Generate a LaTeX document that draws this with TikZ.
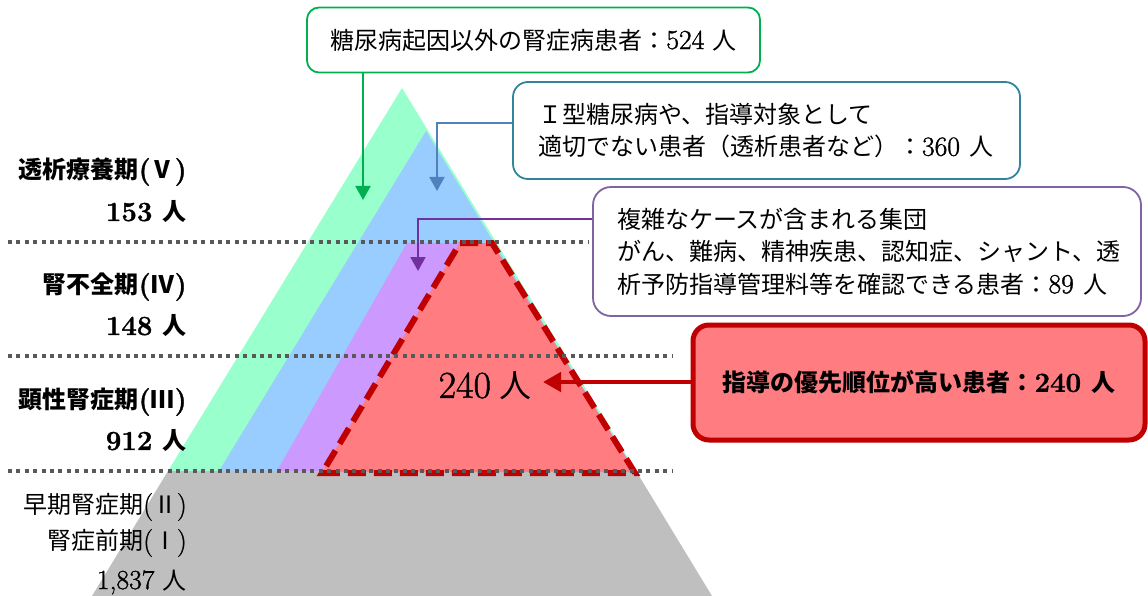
\documentclass[tikz,border=0pt]{standalone}
\usepackage{fontspec}
\setmainfont{Latin Modern Roman}[Scale=1.15, RawFeature={embolden=1.2}]
\newfontfamily\jp{Noto Sans CJK JP}
\usetikzlibrary{arrows.meta}
\definecolor{lgreen}{HTML}{99FFCC}
\definecolor{lblue}{HTML}{99CCFF}
\definecolor{lpurple}{HTML}{CC99FF}
\definecolor{lred}{HTML}{FF7C80}
\definecolor{lgray}{HTML}{BFBFBF}
\definecolor{dotc}{HTML}{595959}
\definecolor{dgreen}{HTML}{00B050}
\definecolor{dteal}{HTML}{31849B}
\definecolor{dblue}{HTML}{4F81BD}
\definecolor{dpurple}{HTML}{7030A0}
\definecolor{mpurple}{HTML}{8064A2}
\definecolor{dred}{HTML}{C00000}
\begin{document}
\begin{tikzpicture}[x=1pt,y=-1pt,
  every node/.style={inner sep=0pt, font=\fontsize{24}{32.5}\selectfont},
  layerlbl/.style={anchor=east, font=\fontsize{24}{32.5}\selectfont\bfseries},
  basiclbl/.style={anchor=east},
  dotline/.style={dotc, line width=3.5pt, dash pattern=on 4pt off 4.4pt},
  callout/.style={draw, line width=1.8pt, rounded corners=12pt, fill=white},
  pointer/.style={line width=2pt, -{Triangle[length=14pt,width=15pt]}},
]
\useasboundingbox (0,0) rectangle (1148,596);
% pyramid layers
\fill[lgreen] (402,88) -- (636,471) -- (168,471) -- cycle;
\fill[lblue] (426,131) -- (633,471) -- (219,471) -- cycle;
\fill[lpurple] (407,243) -- (492,243) -- (635,471) -- (277,471) -- cycle;
\fill[lgray] (168,471) -- (636,471) -- (712,596) -- (92,596) -- cycle;
\fill[lred] (460,243) -- (492,243) -- (635,472) -- (322,472) -- cycle;
\draw[dred, line width=6pt, dash pattern=on 18pt off 8pt] (460,243) -- (492,243) -- (635,473) -- (322,473) -- cycle;
% stage separators
\draw[dotline] (8,242) -- (588,242);
\draw[dotline] (8,356) -- (672,356);
\draw[dotline] (8,471) -- (672,471);
% stage labels
\node[layerlbl] (l5a) at (187,172) {{\jp 透析療養期}({\jp Ⅴ})};
\node[layerlbl] (l5b) at (187,212) {153 {\jp 人}};
\node[layerlbl] (l4a) at (187,287) {{\jp 腎不全期}({\jp Ⅳ})};
\node[layerlbl] (l4b) at (187,326) {148 {\jp 人}};
\node[layerlbl] (l3a) at (187,402) {{\jp 顕性腎症期}({\jp Ⅲ})};
\node[layerlbl] (l3b) at (187,441) {912 {\jp 人}};
\node[basiclbl] (l2a) at (187,507) {{\jp 早期腎症期}({\jp Ⅱ})};
\node[basiclbl] (l1a) at (187,543) {{\jp 腎症前期}({\jp Ⅰ})};
\node[basiclbl] (l0) at (187,582) {1,837 {\jp 人}};
% count in red layer
\node (cnt) at (485,386) {{\fontsize{33}{33}\selectfont 240} {\jp\fontsize{32}{32}\selectfont 人}};
% callouts
\node[callout, draw=dgreen, minimum width=453pt, minimum height=65pt] (gbox) at (533.5,40)
  {{\jp 糖尿病起因以外の腎症病患者：}524 {\jp 人}};
\node[callout, draw=dteal, rounded corners=15pt, minimum width=507pt, minimum height=97pt,
  text width=457pt, align=left] (bbox) at (766.5,130.5)
  {{\jp Ｉ型糖尿病や、指導対象として}\\{\jp 適切でない患者（透析患者など）：}360 {\jp 人}};
\node[callout, draw=mpurple, rounded corners=18pt, minimum width=548pt, minimum height=129pt,
  text width=500pt, align=left] (pbox) at (867,251.5)
  {{\jp 複雑なケースが含まれる集団}\\{\jp がん、難病、精神疾患、認知症、シャント、透}\\{\jp 析予防指導管理料等を確認できる患者：}89 {\jp 人}};
\node[draw=dred, fill=lred, line width=5pt, rounded corners=16pt, minimum width=452pt,
  minimum height=115pt, font=\fontsize{24}{32.5}\selectfont\bfseries] (rbox) at (919,382.5)
  {{\jp 指導の優先順位が高い患者：}240 {\jp 人}};
% connectors
\coordinate (gtip) at (363,200);
\draw[pointer, dgreen] (gbox.south -| gtip) -- (gtip);
\coordinate (bturn) at (437,123);
\coordinate (btip) at (437,191);
\draw[pointer, dblue] (bbox.west |- bturn) -- (bturn) -- (btip);
\coordinate (pturn) at (418,219);
\coordinate (ptip) at (418,271);
\draw[pointer, dpurple] (pbox.west |- pturn) -- (pturn) -- (ptip);
\coordinate (rtip) at (543,382);
\draw[dred, line width=4.5pt, -{Triangle[length=18pt,width=19pt]}] (rbox.west |- rtip) -- (rtip);
\end{tikzpicture}
\end{document}
